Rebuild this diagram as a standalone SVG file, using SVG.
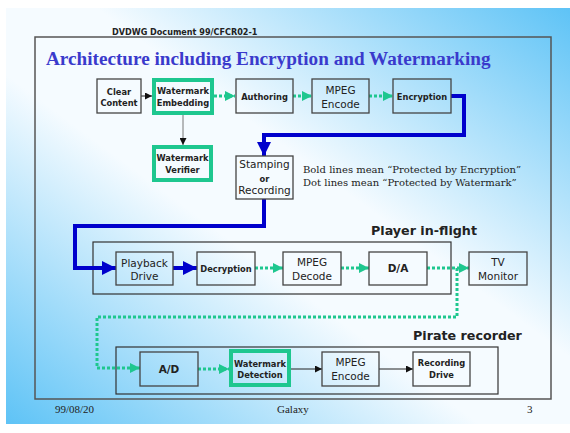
<svg xmlns="http://www.w3.org/2000/svg" width="570" height="433" viewBox="0 0 570 433">
<defs>
<linearGradient id="bg" x1="1" y1="0" x2="0" y2="1">
<stop offset="0" stop-color="#5ec3f6"/>
<stop offset="0.42" stop-color="#f5fbff"/>
<stop offset="0.58" stop-color="#f5fbff"/>
<stop offset="1" stop-color="#5ec3f6"/>
</linearGradient>
<marker id="gArr" markerUnits="userSpaceOnUse" viewBox="0 0 10 10" markerWidth="11" markerHeight="10" refX="10" refY="5" orient="auto">
<path d="M0,0 L10,5 L0,10 z" fill="#1ec78f"/>
</marker>
<marker id="bArr" markerUnits="userSpaceOnUse" viewBox="0 0 10 10" markerWidth="15" markerHeight="14" refX="10" refY="5" orient="auto">
<path d="M0,0 L10,5 L0,10 z" fill="#0000cc"/>
</marker>
<marker id="kArr" markerUnits="userSpaceOnUse" viewBox="0 0 10 10" markerWidth="7" markerHeight="7" refX="10" refY="5" orient="auto">
<path d="M0,0 L10,5 L0,10 z" fill="#111"/>
</marker>
</defs>
<style>
.box{fill:none;stroke:#444;stroke-width:1.3}
.gbox{fill:none;stroke:#1ec78f;stroke-width:4}
.grp{fill:none;stroke:#333;stroke-width:1.2}
.sb{font-family:"DejaVu Sans",Verdana,sans-serif;font-weight:bold;font-size:8.3px;fill:#222;text-anchor:middle}
.sr{font-family:"DejaVu Sans",Verdana,sans-serif;font-size:10.5px;fill:#222;text-anchor:middle}
.grpT{font-family:"DejaVu Sans",Verdana,sans-serif;font-weight:bold;font-size:12.7px;fill:#222}
.dot{fill:none;stroke:#1ec78f;stroke-width:3;stroke-dasharray:3 2}
.blue{fill:none;stroke:#0000cc;stroke-width:4}
.thin{fill:none;stroke:#222;stroke-width:1}
.ft{font-family:"Liberation Serif","Times New Roman",serif;font-size:11px;fill:#222}
.leg{font-family:"DejaVu Serif",serif;font-size:10px;fill:#222}
</style>
<rect x="0" y="0" width="570" height="433" fill="#ffffff"/>
<rect x="6" y="8" width="564" height="416" fill="url(#bg)"/>
<rect x="35" y="37" width="516" height="362" fill="none" stroke="#555" stroke-width="1.5"/>
<text x="112" y="35" font-family="DejaVu Sans,Verdana,sans-serif" font-weight="bold" font-size="8.1" fill="#222">DVDWG Document 99/CFCR02-1</text>
<text x="46" y="65" font-family="Liberation Serif,Times New Roman,serif" font-weight="bold" font-size="19.2" fill="#3a3acc">Architecture including Encryption and Watermarking</text>
<text class="leg" x="303" y="173">Bold lines mean “Protected by Encryption”</text>
<text class="leg" x="303" y="186">Dot lines mean “Protected by Watermark”</text>
<g id="player-group"><rect class="grp" x="93" y="242" width="358" height="52"/><text class="grpT" x="371" y="235">Player in-flight</text></g>
<g id="pirate-group"><rect class="grp" x="116" y="347" width="382" height="47"/><text class="grpT" x="413" y="340">Pirate recorder</text></g>
<g id="connectors">
<line class="thin" x1="141" y1="96" x2="152" y2="96" marker-end="url(#kArr)"/>
<line class="dot" x1="214" y1="96" x2="235" y2="96" marker-end="url(#gArr)"/>
<line class="dot" x1="293" y1="96" x2="312" y2="96" marker-end="url(#gArr)"/>
<line class="dot" x1="369" y1="96" x2="393" y2="96" marker-end="url(#gArr)"/>
<line x1="183" y1="115" x2="183" y2="145" stroke="#777" stroke-width="1" marker-end="url(#kArr)"/>
<path class="blue" d="M451,96 H464 V135 H264 V156" marker-end="url(#bArr)"/>
<path class="blue" d="M264,199 V226 H75 V268 H116" marker-end="url(#bArr)"/>
<line class="blue" x1="173" y1="268" x2="197" y2="268" marker-end="url(#bArr)"/>
<line class="dot" x1="255" y1="268" x2="283" y2="268" marker-end="url(#gArr)"/>
<line class="dot" x1="341" y1="268" x2="369" y2="268" marker-end="url(#gArr)"/>
<line class="dot" x1="427" y1="268" x2="469" y2="268" marker-end="url(#gArr)"/>
<path class="dot" d="M457,268 V317 H97 V368 H140" marker-end="url(#gArr)"/>
<line class="dot" x1="198" y1="369" x2="229" y2="369" marker-end="url(#gArr)"/>
<line class="thin" x1="291" y1="369" x2="322" y2="369" marker-end="url(#kArr)"/>
<line class="thin" x1="379" y1="369" x2="413" y2="369" marker-end="url(#kArr)"/>
</g>
<g id="clear-content"><rect class="box" x="97" y="79" width="44" height="34"/><text class="sb" x="119" y="95">Clear</text><text class="sb" x="119" y="106">Content</text></g>
<g id="wm-embedding"><rect class="gbox" x="154" y="80" width="58" height="33"/><text class="sb" x="183" y="94">Watermark</text><text class="sb" x="183" y="106">Embedding</text></g>
<g id="authoring"><rect class="box" x="236" y="79" width="57" height="34"/><text class="sb" x="264.5" y="100">Authoring</text></g>
<g id="mpeg-encode-1"><rect class="box" x="312" y="79" width="57" height="34"/><text class="sr" x="340.5" y="94">MPEG</text><text class="sr" x="340.5" y="108">Encode</text></g>
<g id="encryption"><rect class="box" x="393" y="79" width="58" height="34"/><text class="sb" x="422" y="100">Encryption</text></g>
<g id="wm-verifier"><rect class="gbox" x="154" y="147" width="57" height="33"/><text class="sb" x="182.5" y="161" font-size="7.8">Watermark</text><text class="sb" x="182.5" y="173">Verifier</text></g>
<g id="stamping"><rect class="box" x="236" y="156" width="57" height="43"/><text class="sr" x="264.5" y="168">Stamping</text><text class="sb" x="264.5" y="182" font-size="6.5">or</text><text class="sr" x="264.5" y="194">Recording</text></g>
<g id="playback-drive"><rect class="box" x="116" y="252" width="57" height="33"/><text class="sr" x="144.5" y="267">Playback</text><text class="sr" x="144.5" y="280">Drive</text></g>
<g id="decryption"><rect class="box" x="197" y="252" width="58" height="33"/><text class="sb" x="226" y="272">Decryption</text></g>
<g id="mpeg-decode"><rect class="box" x="283" y="252" width="58" height="33"/><text class="sr" x="312" y="266">MPEG</text><text class="sr" x="312" y="280">Decode</text></g>
<g id="da"><rect class="box" x="369" y="252" width="58" height="33"/><text class="sr" x="398" y="272" font-weight="bold" font-size="10">D/A</text></g>
<g id="tv-monitor"><rect class="box" x="469" y="252" width="58" height="33"/><text class="sr" x="498" y="266">TV</text><text class="sr" x="498" y="280">Monitor</text></g>
<g id="ad"><rect class="box" x="140" y="352" width="58" height="34"/><text class="sr" x="169" y="373" font-weight="bold" font-size="10">A/D</text></g>
<g id="wm-detection"><rect class="gbox" x="231" y="351" width="58" height="34"/><text class="sb" x="260" y="367">Watermark</text><text class="sb" x="260" y="378">Detection</text></g>
<g id="mpeg-encode-2"><rect class="box" x="322" y="352" width="57" height="34"/><text class="sr" x="350.5" y="366">MPEG</text><text class="sr" x="350.5" y="380">Encode</text></g>
<g id="recording-drive"><rect class="box" x="413" y="352" width="57" height="34"/><text class="sb" x="441.5" y="366">Recording</text><text class="sb" x="441.5" y="378">Drive</text></g>
<text class="ft" x="55" y="413">99/08/20</text>
<text class="ft" x="277" y="413">Galaxy</text>
<text class="ft" x="527" y="413">3</text>
</svg>
